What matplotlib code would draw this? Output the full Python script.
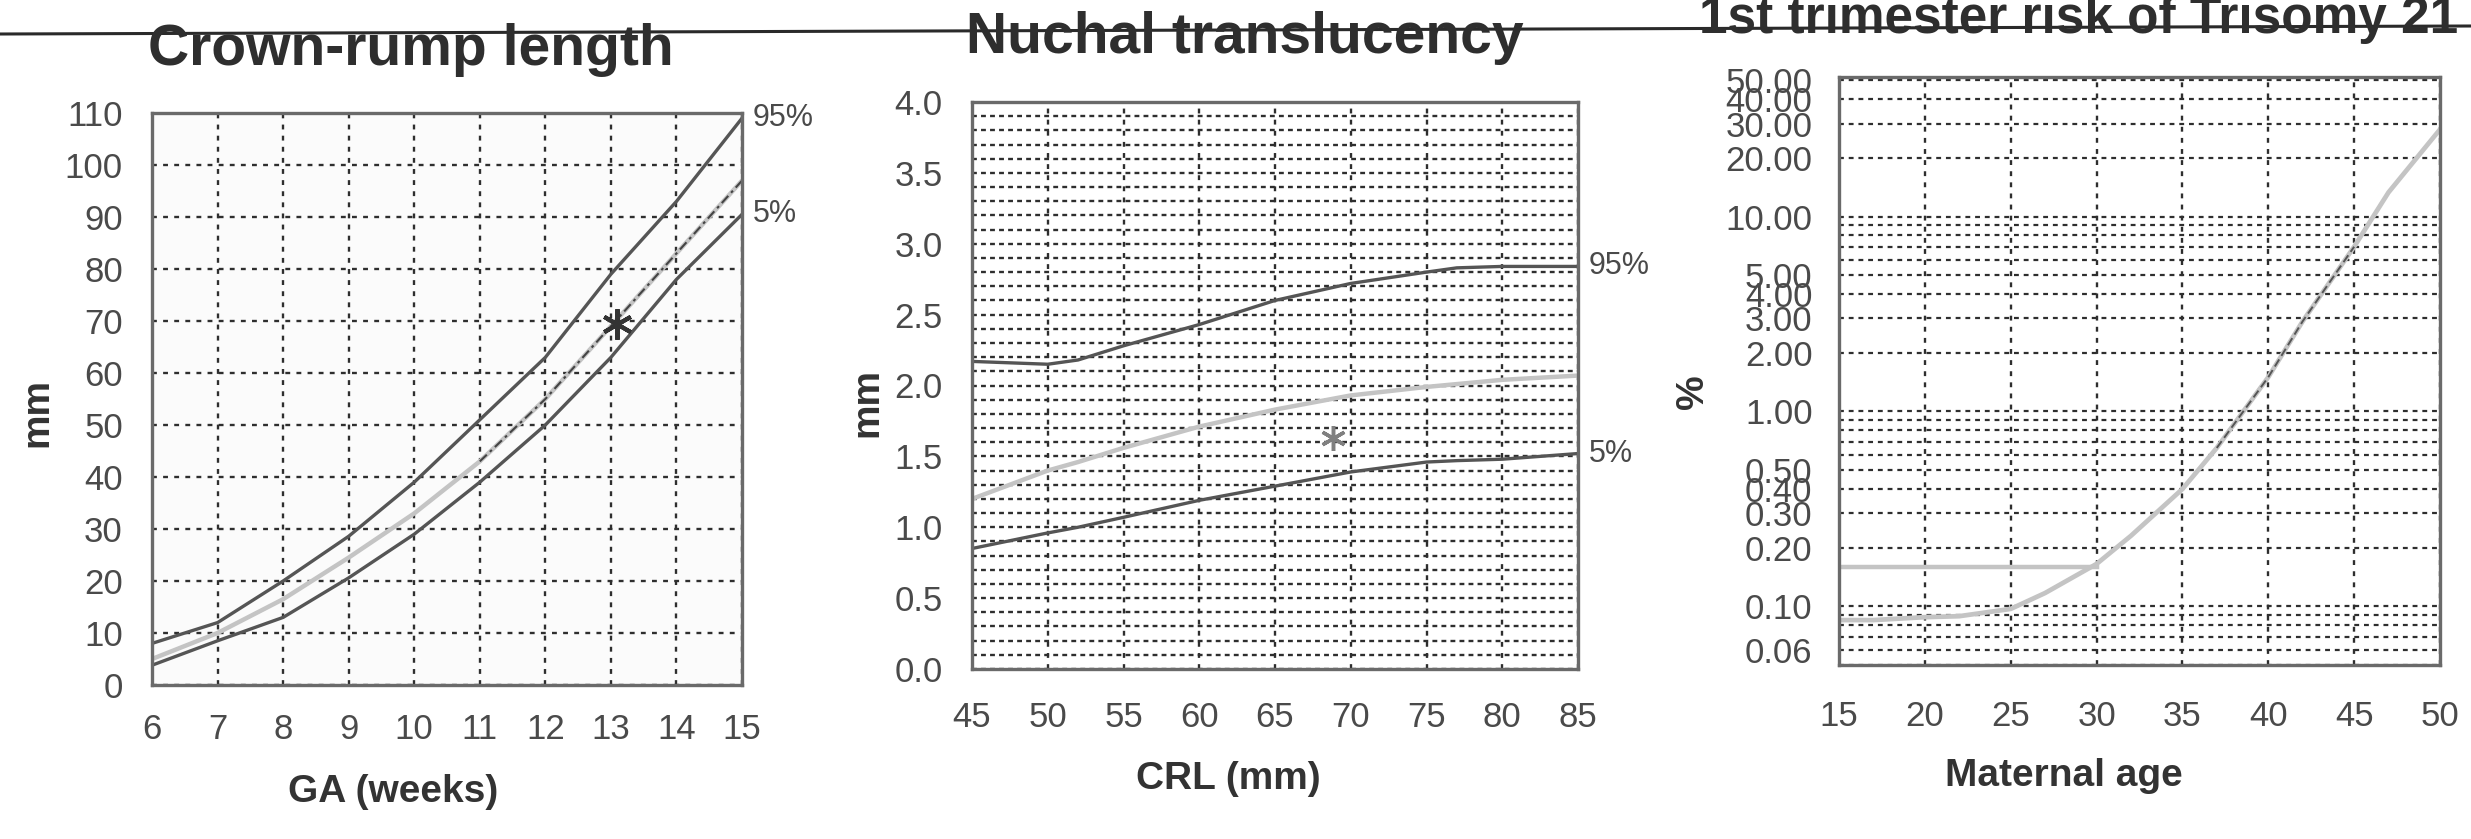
import matplotlib
matplotlib.use('Agg')
import matplotlib.pyplot as plt
from matplotlib.lines import Line2D
from matplotlib.ticker import FixedLocator, LogLocator, NullFormatter
import numpy as np

plt.rcParams['font.family'] = ['Liberation Sans', 'DejaVu Sans']
plt.rcParams['lines.scale_dashes'] = False

# ---------------- data ----------------
# Panel 1: Crown-rump length vs GA
ga_weeks = [6, 7, 8, 9, 10, 11, 12, 13, 14, 15]
crl_p95 = [8, 12, 20, 28.6, 39, 51, 63, 79, 93, 109]
crl_p50 = [5, 10, 16.5, 24.5, 33, 43, 55, 69, 83, 97]
crl_p5 = [3.8, 8.5, 13, 20.6, 29, 39, 50, 63, 78, 90.5]
crl_patient = (13.1, 69.5)
ga_ticks = [6, 7, 8, 9, 10, 11, 12, 13, 14, 15]
crl_yticks = [0, 10, 20, 30, 40, 50, 60, 70, 80, 90, 100, 110]

# Panel 2: Nuchal translucency vs CRL
crl_mm = [45, 50, 52, 55, 60, 65, 70, 75, 77, 80, 85]
nt_p95 = [2.17, 2.15, 2.18, 2.28, 2.43, 2.60, 2.72, 2.80, 2.83, 2.84, 2.84]
nt_p50 = [1.20, 1.40, 1.46, 1.56, 1.71, 1.83, 1.93, 1.99, 2.01, 2.04, 2.07]
nt_p5 = [0.85, 0.96, 1.00, 1.07, 1.19, 1.29, 1.39, 1.46, 1.47, 1.48, 1.52]
nt_patient = (68.8, 1.63)
crl_ticks = [45, 50, 55, 60, 65, 70, 75, 80, 85]
nt_yticks = [0.0, 0.5, 1.0, 1.5, 2.0, 2.5, 3.0, 3.5, 4.0]

# Panel 3: 1st trimester risk of trisomy 21 vs maternal age
mat_age = [15, 17, 20, 22, 25, 27, 30, 32, 35, 37, 40, 42, 45, 47, 50]
t21_risk = [0.085, 0.085, 0.088, 0.089, 0.097, 0.117, 0.165, 0.23, 0.40,
            0.65, 1.5, 2.9, 7.0, 13.3, 28]
patient_risk_age = [15, 30]
patient_risk = [0.16, 0.16]
age_ticks = [15, 20, 25, 30, 35, 40, 45, 50]
risk_ticks = [0.06, 0.10, 0.20, 0.30, 0.40, 0.50, 1.00, 2.00, 3.00, 4.00,
              5.00, 10.00, 20.00, 30.00, 40.00, 50.00]
risk_labels = ['0.06', '0.10', '0.20', '0.30', '0.40', '0.50', '1.00', '2.00',
               '3.00', '4.00', '5.00', '10.00', '20.00', '30.00', '40.00', '50.00']

# ---------------- figure ----------------
W, H = 2471, 839
fig = plt.figure(figsize=(W / 100, H / 100), dpi=100)
fig.patch.set_facecolor('white')

DARK = '#555555'
LIGHT = '#c4c4c4'
TICKC = '#4a4a4a'
GRIDC = '#2e2e2e'


def box(l, r, t, b):
    return [l / W, 1 - b / H, (r - l) / W, (b - t) / H]


def style(ax, xpad, ypad):
    for s in ax.spines.values():
        s.set_color('#6a6a6a')
        s.set_linewidth(2.4)
    ax.tick_params(which='both', length=0, labelsize=25, labelcolor=TICKC)
    ax.tick_params(axis='x', pad=xpad)
    ax.tick_params(axis='y', pad=ypad)
    ax.set_axisbelow(True)


# ---- Panel 1 ----
ax1 = fig.add_axes(box(152, 742, 113, 685))
ax1.set_facecolor('#fbfbfb')
ax1.set_xlim(6, 15)
ax1.set_ylim(0, 110)
ax1.set_xticks(ga_ticks)
ax1.set_yticks(crl_yticks)
style(ax1, 20, 21)
ax1.grid(True, color=GRIDC, lw=1.7, dashes=(3.5, 4.5))
ax1.plot(ga_weeks, crl_p50, color=LIGHT, lw=3.2, solid_capstyle='round')
sub = [i for i, g in enumerate(ga_weeks) if g >= 11]
ax1.plot([ga_weeks[i] for i in sub], [crl_p50[i] for i in sub], color='#444444',
         lw=1.5, dashes=(7, 3, 2, 3))
ax1.plot(ga_weeks, crl_p95, color=DARK, lw=2.4)
ax1.plot(ga_weeks, crl_p5, color=DARK, lw=2.4)
ax1.plot(*crl_patient, marker=(6, 2, 0), ms=22, mew=3, color='#333333')
ax1.annotate('95%', xy=(ga_weeks[-1], crl_p95[-1]), xytext=(8, 0),
             textcoords='offset points', va='center', ha='left', fontsize=22,
             color=TICKC, annotation_clip=False)
ax1.annotate('5%', xy=(ga_weeks[-1], crl_p5[-1]), xytext=(8, 0),
             textcoords='offset points', va='center', ha='left', fontsize=22,
             color=TICKC, annotation_clip=False)

# ---- Panel 2 ----
ax2 = fig.add_axes(box(972, 1578, 102, 669))
ax2.set_xlim(45, 85)
ax2.set_ylim(0, 4)
ax2.set_xticks(crl_ticks)
ax2.set_yticks(nt_yticks)
ax2.set_yticklabels(['%.1f' % v for v in nt_yticks])
ax2.yaxis.set_minor_locator(FixedLocator(np.arange(1, 40) / 10))
style(ax2, 23, 21)
ax2.grid(True, which='major', axis='x', color=GRIDC, lw=1.7, dashes=(3.5, 4.5))
ax2.grid(True, which='both', axis='y', color=GRIDC, lw=1.7, dashes=(3.5, 3))
ax2.plot(crl_mm, nt_p50, color=LIGHT, lw=3.2)
ax2.plot(crl_mm, nt_p95, color=DARK, lw=2.4)
ax2.plot(crl_mm, nt_p5, color=DARK, lw=2.4)
ax2.plot(*nt_patient, marker=(6, 2, 0), ms=18, mew=2.5, color='#808080')
ax2.annotate('95%', xy=(crl_mm[-1], nt_p95[-1]), xytext=(8, 0),
             textcoords='offset points', va='center', ha='left', fontsize=22,
             color=TICKC, annotation_clip=False)
ax2.annotate('5%', xy=(crl_mm[-1], nt_p5[-1]), xytext=(8, 0),
             textcoords='offset points', va='center', ha='left', fontsize=22,
             color=TICKC, annotation_clip=False)

# ---- Panel 3 ----
ax3 = fig.add_axes(box(1839, 2440, 77, 665))
ax3.set_yscale('log')
ax3.set_xlim(15, 50)
ax3.set_ylim(0.05, 52)
ax3.set_xticks(age_ticks)
ax3.yaxis.set_major_locator(FixedLocator(risk_ticks))
ax3.set_yticklabels(risk_labels)
ax3.yaxis.set_minor_locator(LogLocator(base=10, subs=np.arange(1, 10)))
ax3.yaxis.set_minor_formatter(NullFormatter())
style(ax3, 25, 19)
ax3.grid(True, which='major', axis='x', color=GRIDC, lw=1.7, dashes=(3.5, 4.5))
ax3.grid(True, which='both', axis='y', color=GRIDC, lw=1.6, dashes=(3.5, 3.5))
ax3.plot(patient_risk_age, patient_risk, color=LIGHT, lw=3.2)
ax3.plot(mat_age, t21_risk, color=LIGHT, lw=3.4)
sub3 = [i for i, a in enumerate(mat_age) if 37 <= a <= 45]
ax3.plot([mat_age[i] for i in sub3], [t21_risk[i] for i in sub3],
         color='#555555', lw=1.4, dashes=(6, 3))

# ---------------- titles, labels, rule ----------------
fig.add_artist(Line2D([0, 1], [1 - 34 / H, 1 - 26 / H], color='#2a2a2a', lw=2.2))


def ftext(x, y, s, **kw):
    fig.text(x / W, 1 - y / H, s, **kw)


ftext(411, 65, 'Crown-rump length', ha='center', va='baseline', fontsize=41,
      fontweight='bold', color='#2e2e2e')
ftext(1245, 53, 'Nuchal translucency', ha='center', va='baseline', fontsize=41,
      fontweight='bold', color='#2e2e2e')
ftext(2079, 33, '1st trimester risk of Trisomy 21', ha='center', va='baseline',
      fontsize=37, fontweight='bold', color='#2e2e2e')

ftext(393, 792, 'GA (weeks)', ha='center', va='center', fontsize=28,
      fontweight='bold', color='#333333')
ftext(1228, 779, 'CRL (mm)', ha='center', va='center', fontsize=28,
      fontweight='bold', color='#333333')
ftext(2064, 776, 'Maternal age', ha='center', va='center', fontsize=28,
      fontweight='bold', color='#333333')
ftext(37, 413, 'mm', ha='center', va='center', rotation=90, fontsize=28,
      fontweight='bold', color='#333333')
ftext(867, 403, 'mm', ha='center', va='center', rotation=90, fontsize=28,
      fontweight='bold', color='#333333')
ftext(1693, 392, '%', ha='center', va='center', rotation=90, fontsize=28,
      fontweight='bold', color='#333333')

fig.savefig('out.png', dpi=100, facecolor='white')
